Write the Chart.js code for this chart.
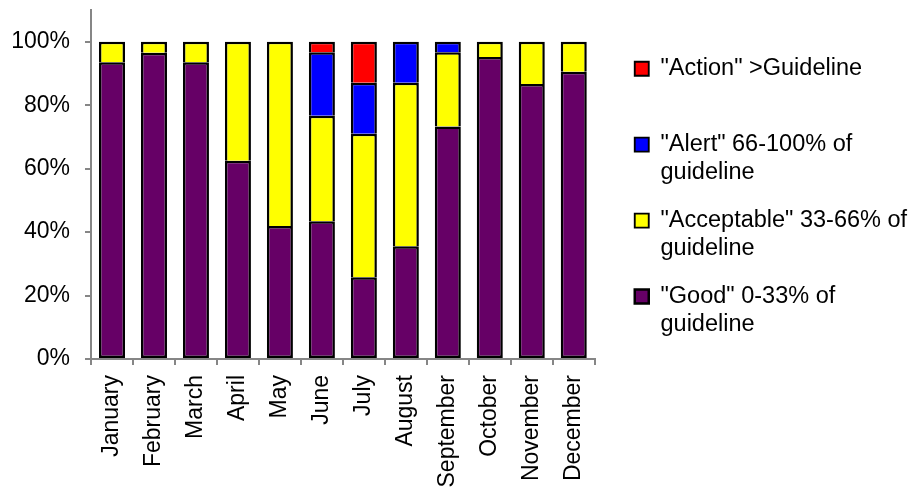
<!DOCTYPE html>
<html>
<head>
<meta charset="utf-8">
<script src="https://cdn.jsdelivr.net/npm/chart.js@4.4.1/dist/chart.umd.min.js"></script>
<style>
  html, body { margin: 0; padding: 0; background: #fff; }
  #wrap { width: 910px; height: 492px; position: relative; }
</style>
</head>
<body>
<div id="wrap"><canvas id="chart"></canvas></div>
<script>
const months = ['January', 'February', 'March', 'April', 'May', 'June',
  'July', 'August', 'September', 'October', 'November', 'December'];

// share of samples in each band, per month (%)
const good       = [93.5, 96.5, 93.5, 62.5, 41.9, 43.4, 25.8, 35.5, 73.3, 95.2, 86.7, 90.5];
const acceptable = [6.5, 3.5, 6.5, 37.5, 58.1, 33.3, 45.2, 51.6, 23.4, 4.8, 13.3, 9.5];
const alert      = [0, 0, 0, 0, 0, 20.0, 16.1, 12.9, 3.3, 0, 0, 0];
const action     = [0, 0, 0, 0, 0, 3.3, 12.9, 0, 0, 0, 0, 0];

const yTicks = [0, 20, 40, 60, 80, 100];

const colors = {
  good: '#660066',
  acceptable: '#FFFF00',
  alert: '#0000FF',
  action: '#FF0000',
  axis: '#868686',
  text: '#000000'
};

const fontFamily = "'Liberation Sans', Arial, sans-serif";

// moves the legend block off the plot area and gives it room for the long labels
const legendShift = {
  id: 'legendShift',
  afterLayout(chart, args, opts) {
    const lg = chart.legend;
    if (!lg) return;
    lg.left += opts.x;
    lg.top += opts.y;
    lg.bottom += opts.y;
    lg.right = chart.width;
    lg.width = lg.right - lg.left;
  }
};

const segment = (label, data, color, isBase) => ({
  label,
  data,
  backgroundColor: color,
  borderColor: '#000000',
  borderWidth: { top: 2.5, left: 2.5, right: 2.5, bottom: isBase ? 2.5 : 0 },
  borderSkipped: false,
  barPercentage: 0.62,
  categoryPercentage: 1
});

new Chart(document.getElementById('chart'), {
  type: 'bar',
  data: {
    labels: months,
    datasets: [
      segment(['"Good" 0-33% of', 'guideline'], good, colors.good, true),
      segment(['"Acceptable" 33-66% of', 'guideline'], acceptable, colors.acceptable),
      segment(['"Alert" 66-100% of', 'guideline'], alert, colors.alert),
      segment(['"Action" >Guideline', ''], action, colors.action)
    ]
  },
  plugins: [legendShift],
  options: {
    responsive: true,
    maintainAspectRatio: false,
    animation: false,
    layout: { padding: { left: 0, top: 10, right: 117, bottom: 0 } },
    scales: {
      x: {
        stacked: true,
        grid: {
          offset: true,
          drawOnChartArea: false,
          color: colors.axis,
          lineWidth: 2,
          tickLength: 6
        },
        border: { color: colors.axis, width: 2 },
        afterFit: axis => {
          axis.height = 133;
          axis.paddingLeft = 0;
          axis.paddingRight = 0;
        },
        ticks: {
          color: colors.text,
          font: { family: fontFamily, size: 23 },
          minRotation: 90,
          maxRotation: 90,
          autoSkip: false,
          padding: 10
        }
      },
      y: {
        stacked: true,
        min: 0,
        max: 110,
        grid: {
          drawOnChartArea: false,
          color: colors.axis,
          lineWidth: 2,
          tickLength: 6
        },
        border: { color: colors.axis, width: 2 },
        afterBuildTicks: axis => {
          axis.ticks = yTicks.map(value => ({ value }));
        },
        afterFit: axis => {
          axis.width = 91;
          axis.paddingTop = 0;
          axis.paddingBottom = 0;
        },
        ticks: {
          color: colors.text,
          font: { family: fontFamily, size: 23 },
          padding: 15,
          callback: value => value + '%'
        }
      }
    },
    plugins: {
      legend: {
        position: 'right',
        align: 'start',
        reverse: true,
        labels: {
          color: colors.text,
          font: { family: fontFamily, size: 23.5, lineHeight: 1.19 },
          boxWidth: 14,
          boxHeight: 14,
          padding: 20
        }
      },
      tooltip: { enabled: false },
      legendShift: { x: 20, y: 27 }
    }
  }
});
</script>
</body>
</html>
